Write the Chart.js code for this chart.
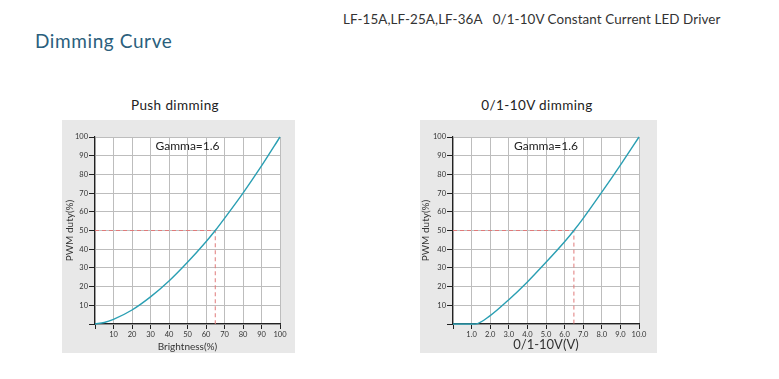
<!DOCTYPE html>
<html>
<head>
<meta charset="utf-8">
<script src="https://cdn.jsdelivr.net/npm/chart.js@4/dist/chart.umd.min.js"></script>
<style>
  html, body { margin:0; padding:0; background:#fff; }
  body { width:779px; height:379px; position:relative; overflow:hidden; font-family: Lato, "DejaVu Sans", sans-serif; }
  .hdr { position:absolute; left:343px; top:11px; font-size:13.4px; color:#333; white-space:pre; letter-spacing:0.1px; }
  .main { position:absolute; left:35px; top:29px; font-size:19px; color:#2b5f7d; letter-spacing:0.6px; }
  .ptitle { position:absolute; top:97px; font-size:13.5px; color:#222; text-align:center; letter-spacing:0.4px; }
  .box { position:absolute; background:#e8e8e8; }
  .box canvas { position:absolute; left:0; top:0; }
</style>
</head>
<body>
<div class="hdr">LF-15A,LF-25A,LF-36A   0/1-10V Constant Current LED Driver</div>
<div class="main">Dimming Curve</div>
<div class="ptitle" style="left:105px;width:140px;">Push dimming</div>
<div class="ptitle" style="left:464px;width:146px;">0/1-10V dimming</div>
<div class="box" style="left:62px;top:120px;width:233px;height:233px;"><canvas id="c1" width="233" height="233"></canvas></div>
<div class="box" style="left:420px;top:120px;width:237px;height:233px;"><canvas id="c2" width="237" height="233"></canvas></div>
<script>
// ---- data ----
const pushX = [0, 5, 10, 20, 30, 40, 50, 60, 65, 70, 80, 90, 100];
const pushY = [0, 0.8, 2.5, 7.5, 14.5, 23, 33, 44, 50, 56.5, 70, 84.5, 100];
const voltX = [0, 1.0, 1.2, 2, 3, 4, 5, 6, 6.5, 7, 8, 9, 10];
const voltY = [0, 0, 0, 4.5, 13, 22.5, 33, 44, 50, 56.5, 70.5, 85, 100];
const pushMarkX = [0, 65, 65];
const pushMarkY = [50, 50, 0];
const voltMarkX = [0, 6.5, 6.5];
const voltMarkY = [50, 50, 0];
const yTicks = [0, 10, 20, 30, 40, 50, 60, 70, 80, 90, 100];
const pushTicks = [0, 10, 20, 30, 40, 50, 60, 70, 80, 90, 100];
const voltTicks = [0, 1, 2, 3, 4, 5, 6, 7, 8, 9, 10];
const gammaLabel = 'Gamma=1.6';

const toPts = (xs, ys) => xs.map((x, i) => ({x, y: ys[i]}));

const gammaPlugin = {
  id: 'gamma',
  afterDatasetsDraw(chart, args, opts) {
    const {ctx, scales} = chart;
    ctx.save();
    ctx.font = '12px Lato, "DejaVu Sans", sans-serif';
    ctx.fillStyle = '#222';
    ctx.textAlign = 'center';
    ctx.textBaseline = 'middle';
    ctx.fillText(opts.text, scales.x.getPixelForValue(opts.x), scales.y.getPixelForValue(opts.y));
    ctx.restore();
  }
};

function makeChart(id, xs, ys, mx, my, xTicks, xMax, xFmt, xTitle, xTitleSize, rightPad, yTitlePad) {
  return new Chart(document.getElementById(id), {
    type: 'line',
    data: {
      datasets: [
        { data: toPts(xs, ys), borderColor: '#2a9fb3', borderWidth: 1.4, pointRadius: 0, cubicInterpolationMode: 'monotone', fill: false, clip: false },
        { data: toPts(mx, my), borderColor: '#e07a7a', borderWidth: 1, borderDash: [4, 3], pointRadius: 0, tension: 0, fill: false }
      ]
    },
    options: {
      responsive: false,
      animation: false,
      events: [],
      layout: { padding: { left: 0, top: 17, right: rightPad, bottom: 0 } },
      plugins: { legend: { display: false }, tooltip: { enabled: false }, title: { display: false },
        gamma: { text: gammaLabel, x: xMax / 2, y: 95 } },
      scales: {
        x: {
          type: 'linear', min: 0, max: xMax,
          afterFit: s => { s.height = 29; },
          afterBuildTicks: s => { s.ticks = xTicks.map(v => ({value: v})); },
          ticks: { padding: 1, color: '#333', font: { size: 7.5, family: 'Lato, "DejaVu Sans", sans-serif' }, maxRotation: 0, autoSkip: false,
            callback: v => v === 0 ? '' : xFmt(v) },
          grid: { color: '#bdbdbd', lineWidth: 1, tickLength: 5, tickColor: '#222' },
          border: { color: '#222', width: 1.2 },
          title: { display: true, text: xTitle, color: '#333', padding: { top: 0, bottom: 0 },
            font: { size: xTitleSize, family: 'Lato, "DejaVu Sans", sans-serif', lineHeight: 1.2 } }
        },
        y: {
          type: 'linear', min: 0, max: 100,
          afterFit: s => { s.width = 33; },
          afterBuildTicks: s => { s.ticks = yTicks.map(v => ({value: v})); },
          ticks: { padding: 1, color: '#333', font: { size: 7.5, family: 'Lato, "DejaVu Sans", sans-serif' }, autoSkip: false,
            callback: v => v === 0 ? '' : String(v) },
          grid: { color: '#bdbdbd', lineWidth: 1, tickLength: 6, tickColor: '#222' },
          border: { color: '#222', width: 1.2 },
          title: { display: true, text: 'PWM duty(%)', color: '#333', padding: { top: yTitlePad, bottom: 0 },
            font: { size: 10, family: 'Lato, "DejaVu Sans", sans-serif', lineHeight: 1.2 } }
        }
      }
    },
    plugins: [gammaPlugin, {
      id: 'whiteArea',
      beforeDraw(chart) {
        const {ctx, chartArea: a} = chart;
        ctx.save(); ctx.fillStyle = '#fff'; ctx.fillRect(a.left, a.top, a.right - a.left, a.bottom - a.top); ctx.restore();
      }
    }]
  });
}

makeChart('c1', pushX, pushY, pushMarkX, pushMarkY, pushTicks, 100, v => String(v), 'Brightness(%)', 10, 15, 2);
makeChart('c2', voltX, voltY, voltMarkX, voltMarkY, voltTicks, 10, v => v.toFixed(1), '0/1-10V(V)', 13, 18, 0);
</script>
</body>
</html>
